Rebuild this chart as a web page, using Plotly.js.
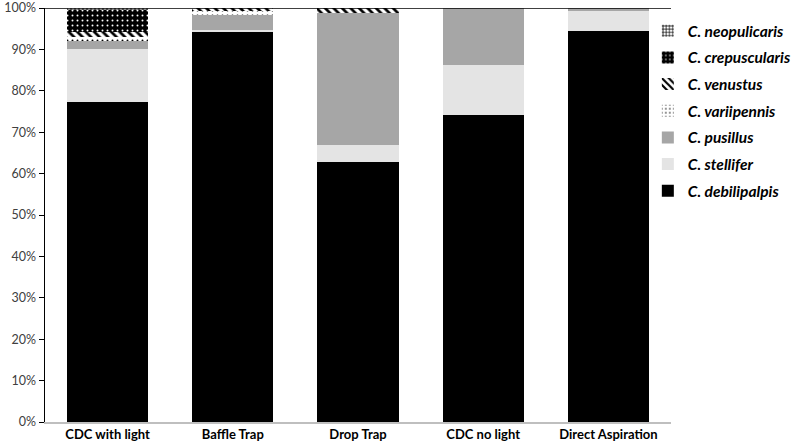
<!DOCTYPE html>
<html>
<head>
<meta charset="utf-8">
<script src="https://cdn.plot.ly/plotly-3.0.1.min.js"></script>
<style>html,body{margin:0;padding:0;background:#fff;}#chart{width:797px;height:444px;}</style>
</head>
<body>
<div id="chart"></div>
<script>
const categories = ["CDC with light", "Baffle Trap", "Drop Trap", "CDC no light", "Direct Aspiration"];
const debilipalpis = [77.2, 94.2, 62.9, 74.2, 94.4];
const stellifer    = [12.9, 0.5, 4.0, 12.0, 4.8];
const pusillus     = [2.0, 3.6, 31.9, 13.8, 0.8];
const variipennis  = [1.0, 0.9, 0.0, 0.0, 0.0];
const venustus     = [1.2, 0.8, 1.2, 0.0, 0.0];
const crepuscularis = [5.2, 0.0, 0.0, 0.0, 0.0];
const neopulicaris = [0.5, 0.0, 0.0, 0.0, 0.0];

const names = ["C. debilipalpis", "C. stellifer", "C. pusillus", "C. variipennis", "C. venustus", "C. crepuscularis", "C. neopulicaris"];
const series = [debilipalpis, stellifer, pusillus, variipennis, venustus, crepuscularis, neopulicaris];
const markers = [
  {color: "#000000"},
  {color: "#e4e4e4"},
  {color: "#a6a6a6"},
  {color: "#ffffff", pattern: {shape: ".", fgcolor: "#000000", bgcolor: "#ffffff", size: 5, solidity: 0.12}},
  {color: "#ffffff", pattern: {shape: "\\", fgcolor: "#000000", bgcolor: "#ffffff", size: 6, solidity: 0.45}},
  {color: "#000000", pattern: {shape: ".", fgcolor: "#ffffff", bgcolor: "#000000", size: 5, solidity: 0.12, fillmode: "replace"}},
  {color: "#ffffff", pattern: {shape: "+", fgcolor: "#000000", bgcolor: "#ffffff", size: 4, solidity: 0.4}}
];

const data = series.map((vals, i) => ({
  type: "bar",
  x: categories,
  y: vals,
  name: names[i],
  legendgroup: "g" + i,
  legendrank: 1000 - i,
  marker: Object.assign({line: {width: 0}}, markers[i]),
  hoverinfo: "name+y"
}));

const layout = {
  width: 797, height: 444,
  margin: {l: 45, r: 126, t: 8, b: 22, autoexpand: false},
  paper_bgcolor: "#ffffff", plot_bgcolor: "#ffffff",
  barmode: "stack",
  bargap: 0.35,
  font: {family: "Lato, 'Open Sans', sans-serif", color: "#404040"},
  xaxis: {
    showgrid: false, zeroline: false,
    showline: true, linecolor: "#bfbfbf", linewidth: 1.5,
    ticks: "",
    tickfont: {size: 13, color: "#000000", weight: "bold"},
    fixedrange: true
  },
  yaxis: {
    range: [0, 100],
    dtick: 10,
    ticksuffix: "%",
    showgrid: false, zeroline: false,
    showline: true, linecolor: "#000000", linewidth: 1.5,
    ticks: "outside", ticklen: 5, tickcolor: "#000000",
    tickfont: {size: 12.5, color: "#404040"},
    fixedrange: true
  },
  shapes: [{type: "line", xref: "paper", yref: "y", x0: 0, x1: 1, y0: 100, y1: 100, line: {color: "#000000", width: 1.5}}],
  legend: {
    x: 0.963, y: 0.985, xanchor: "left", yanchor: "top",
    traceorder: "grouped",
    tracegroupgap: 3.5,
    itemwidth: 30,
    bgcolor: "rgba(0,0,0,0)",
    font: {size: 15.5, color: "#000000", weight: "bold", style: "italic"}
  },
  showlegend: true
};

Plotly.newPlot("chart", data, layout, {displayModeBar: false, staticPlot: true});
</script>
</body>
</html>
